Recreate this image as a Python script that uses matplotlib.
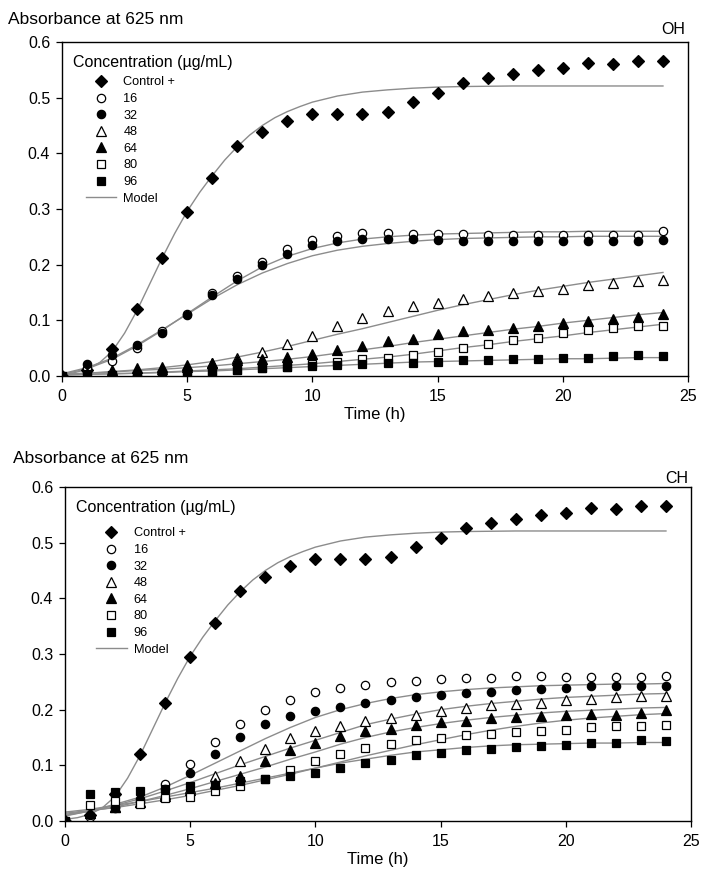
import numpy as np
import matplotlib
matplotlib.use('Agg')
import matplotlib.pyplot as plt

plt.rcParams['font.family'] = ['Liberation Sans', 'DejaVu Sans']

# Tiempo de muestreo (h)
time_h = np.arange(0, 25)

# Control positivo (igual en ambos paneles)
control = [0.000, 0.010, 0.049, 0.120, 0.212, 0.294, 0.356, 0.413, 0.438, 0.458,
           0.470, 0.471, 0.471, 0.474, 0.492, 0.508, 0.527, 0.535, 0.543, 0.550,
           0.553, 0.562, 0.560, 0.565, 0.566]
model_ctrl_t = [0, 0.5, 1, 1.5, 2, 2.5, 3, 3.5, 4, 4.5, 5, 5.5, 6, 6.5, 7, 7.5, 8,
                8.5, 9, 9.5, 10, 11, 12, 13, 14, 15, 16, 18, 20, 22, 24]
model_ctrl = [0.003, 0.006, 0.012, 0.024, 0.044, 0.077, 0.118, 0.165, 0.212, 0.256,
              0.296, 0.330, 0.360, 0.388, 0.412, 0.433, 0.450, 0.464, 0.475, 0.484,
              0.492, 0.503, 0.510, 0.514, 0.517, 0.519, 0.520, 0.521, 0.521, 0.521, 0.521]

# Panel OH
oh_16 = [0.000, 0.015, 0.027, 0.050, 0.080, 0.112, 0.150, 0.179, 0.205, 0.229,
         0.244, 0.251, 0.256, 0.256, 0.255, 0.255, 0.255, 0.254, 0.254, 0.253,
         0.253, 0.254, 0.254, 0.254, 0.261]
oh_32 = [0.000, 0.021, 0.038, 0.056, 0.078, 0.109, 0.145, 0.175, 0.200, 0.219,
         0.236, 0.242, 0.246, 0.246, 0.246, 0.245, 0.243, 0.243, 0.243, 0.243,
         0.243, 0.243, 0.243, 0.243, 0.245]
oh_48 = [0.000, 0.004, 0.006, 0.008, 0.012, 0.016, 0.024, 0.032, 0.043, 0.057,
         0.072, 0.090, 0.104, 0.116, 0.126, 0.132, 0.139, 0.144, 0.149, 0.153,
         0.157, 0.163, 0.167, 0.171, 0.172]
oh_64 = [0.000, 0.006, 0.011, 0.014, 0.017, 0.020, 0.024, 0.028, 0.030, 0.034,
         0.039, 0.047, 0.054, 0.062, 0.066, 0.075, 0.080, 0.083, 0.086, 0.089,
         0.096, 0.099, 0.103, 0.106, 0.111]
oh_80 = [0.000, 0.003, 0.002, 0.001, 0.003, 0.005, 0.008, 0.011, 0.014, 0.017,
         0.022, 0.026, 0.030, 0.032, 0.037, 0.043, 0.050, 0.057, 0.065, 0.068,
         0.077, 0.083, 0.086, 0.089, 0.090]
oh_96 = [0.000, 0.002, 0.002, 0.002, 0.004, 0.006, 0.009, 0.011, 0.014, 0.016,
         0.018, 0.020, 0.021, 0.023, 0.024, 0.026, 0.028, 0.029, 0.031, 0.031,
         0.032, 0.033, 0.036, 0.038, 0.036]

oh_model_16 = [0.003, 0.013, 0.030, 0.054, 0.082, 0.112, 0.142, 0.171, 0.196, 0.215,
               0.229, 0.239, 0.246, 0.250, 0.253, 0.255, 0.256, 0.257, 0.258, 0.259,
               0.259, 0.260, 0.260, 0.260, 0.260]
oh_model_32 = [0.004, 0.015, 0.032, 0.056, 0.083, 0.111, 0.139, 0.164, 0.185, 0.202,
               0.216, 0.226, 0.233, 0.238, 0.242, 0.245, 0.247, 0.248, 0.249, 0.250,
               0.250, 0.251, 0.251, 0.251, 0.251]
oh_model_48 = [0.003, 0.005, 0.008, 0.011, 0.015, 0.020, 0.026, 0.034, 0.043, 0.053,
               0.064, 0.075, 0.085, 0.096, 0.107, 0.118, 0.128, 0.137, 0.146, 0.154,
               0.161, 0.168, 0.174, 0.180, 0.186]
oh_model_64 = [0.003, 0.005, 0.007, 0.010, 0.012, 0.015, 0.018, 0.022, 0.026, 0.030,
               0.035, 0.041, 0.047, 0.053, 0.060, 0.066, 0.072, 0.078, 0.084, 0.089,
               0.095, 0.100, 0.105, 0.110, 0.114]
oh_model_80 = [0.002, 0.003, 0.004, 0.005, 0.007, 0.009, 0.011, 0.013, 0.016, 0.019,
               0.022, 0.026, 0.030, 0.034, 0.039, 0.045, 0.051, 0.056, 0.062, 0.067,
               0.072, 0.078, 0.083, 0.088, 0.093]
oh_model_96 = [0.002, 0.003, 0.004, 0.005, 0.006, 0.008, 0.009, 0.011, 0.013, 0.015,
               0.017, 0.019, 0.021, 0.023, 0.025, 0.026, 0.027, 0.028, 0.029, 0.030,
               0.031, 0.031, 0.032, 0.033, 0.033]

# Panel CH
ch_16 = [0.000, 0.008, 0.025, 0.035, 0.067, 0.102, 0.142, 0.175, 0.199, 0.218,
         0.231, 0.239, 0.245, 0.250, 0.252, 0.255, 0.257, 0.257, 0.260, 0.260,
         0.258, 0.258, 0.258, 0.258, 0.261]
ch_32 = [0.000, 0.011, 0.023, 0.040, 0.057, 0.087, 0.121, 0.151, 0.174, 0.188,
         0.198, 0.205, 0.212, 0.217, 0.223, 0.227, 0.230, 0.232, 0.236, 0.238,
         0.239, 0.242, 0.242, 0.242, 0.242]
ch_48 = [0.000, 0.015, 0.025, 0.035, 0.048, 0.060, 0.080, 0.107, 0.130, 0.150,
         0.162, 0.171, 0.179, 0.185, 0.191, 0.197, 0.203, 0.208, 0.211, 0.212,
         0.218, 0.220, 0.223, 0.224, 0.224]
ch_64 = [0.000, 0.015, 0.025, 0.035, 0.045, 0.055, 0.068, 0.081, 0.107, 0.128,
         0.141, 0.152, 0.161, 0.166, 0.172, 0.177, 0.179, 0.185, 0.187, 0.188,
         0.191, 0.193, 0.191, 0.194, 0.199]
ch_80 = [0.000, 0.028, 0.036, 0.031, 0.041, 0.044, 0.053, 0.062, 0.076, 0.092,
         0.108, 0.120, 0.131, 0.139, 0.145, 0.150, 0.154, 0.157, 0.160, 0.161,
         0.163, 0.168, 0.170, 0.171, 0.173]
ch_96 = [0.000, 0.048, 0.052, 0.053, 0.058, 0.062, 0.065, 0.071, 0.075, 0.081,
         0.087, 0.095, 0.104, 0.109, 0.119, 0.123, 0.127, 0.130, 0.133, 0.135,
         0.137, 0.140, 0.141, 0.145, 0.144]

ch_model_32 = [0.009, 0.018, 0.030, 0.043, 0.061, 0.082, 0.104, 0.126, 0.148, 0.168,
               0.186, 0.200, 0.211, 0.220, 0.227, 0.232, 0.236, 0.239, 0.241, 0.243,
               0.244, 0.245, 0.246, 0.246, 0.247]
ch_model_48 = [0.010, 0.018, 0.028, 0.040, 0.054, 0.069, 0.085, 0.101, 0.116, 0.131,
               0.145, 0.159, 0.173, 0.183, 0.192, 0.200, 0.206, 0.211, 0.215, 0.219,
               0.222, 0.224, 0.226, 0.228, 0.229]
ch_model_64 = [0.012, 0.018, 0.025, 0.035, 0.046, 0.058, 0.071, 0.084, 0.097, 0.111,
               0.124, 0.138, 0.150, 0.160, 0.168, 0.175, 0.181, 0.186, 0.190, 0.194,
               0.197, 0.199, 0.201, 0.203, 0.204]
ch_model_80 = [0.014, 0.019, 0.024, 0.031, 0.038, 0.046, 0.055, 0.064, 0.074, 0.084,
               0.095, 0.106, 0.117, 0.127, 0.137, 0.146, 0.155, 0.163, 0.170, 0.176,
               0.181, 0.185, 0.188, 0.191, 0.193]
ch_model_96 = [0.016, 0.021, 0.028, 0.035, 0.043, 0.051, 0.059, 0.068, 0.077, 0.086,
               0.095, 0.104, 0.111, 0.118, 0.124, 0.128, 0.132, 0.135, 0.137, 0.138,
               0.139, 0.140, 0.140, 0.141, 0.141]

labels = ['Control +', '16', '32', '48', '64', '80', '96']
# (marcador, relleno, tamaño)
marker_styles = [('D', 'black', 5.8), ('o', 'white', 6.0), ('o', 'black', 6.0),
                 ('^', 'white', 6.5), ('^', 'black', 6.5), ('s', 'white', 5.6),
                 ('s', 'black', 5.6)]
model_color = '#8c8c8c'


def draw_panel(ax, series, models, leg_x, leg_y):
    # curvas del modelo
    ax.plot(model_ctrl_t, model_ctrl, color=model_color, lw=1.0, zorder=2)
    line = None
    for m in models:
        line, = ax.plot(time_h, m, color=model_color, lw=1.0, zorder=2)
    # puntos experimentales
    handles = []
    for y, lab, (mk, fc, ms) in zip(series, labels, marker_styles):
        h, = ax.plot(time_h, y, linestyle='none', marker=mk, ms=ms,
                     mfc=fc, mec='black', mew=0.9, zorder=3, label=lab)
        handles.append(h)
    handles.append(line)

    ax.set_xlim(0, 25)
    ax.set_ylim(0, 0.6)
    ax.set_xticks([0, 5, 10, 15, 20, 25])
    ax.set_yticks(np.arange(0, 0.61, 0.1))
    ax.set_yticklabels(['%.1f' % v for v in np.arange(0, 0.61, 0.1)])
    ax.tick_params(direction='out', length=4.5, width=0.9, top=False, right=False)
    ax.tick_params(axis='x', labelsize=11.5, pad=5)
    ax.tick_params(axis='y', labelsize=11.5, pad=4)
    for s in ax.spines.values():
        s.set_linewidth(1.0)
    ax.set_xlabel('Time (h)', fontsize=12, labelpad=2)

    ax.text(0.0176, 0.94, 'Concentration (\u00b5g/mL)', transform=ax.transAxes,
            fontsize=11.5, va='center', ha='left')
    ax.legend(handles, labels + ['Model'], loc='upper left',
              bbox_to_anchor=(leg_x, leg_y), frameon=False, fontsize=9.2,
              borderpad=0, borderaxespad=0, handlelength=2.4,
              handletextpad=0.55, labelspacing=0.36)


fig = plt.figure(figsize=(7.08, 8.81), dpi=100)
ax1 = fig.add_axes([62 / 708, 1 - 376 / 881, 626 / 708, 334 / 881])
ax2 = fig.add_axes([65 / 708, 1 - 821 / 881, 626 / 708, 334 / 881])

draw_panel(ax1, [control, oh_16, oh_32, oh_48, oh_64, oh_80, oh_96],
           [oh_model_16, oh_model_32, oh_model_48, oh_model_64, oh_model_80, oh_model_96],
           0.038, 0.897)
draw_panel(ax2, [control, ch_16, ch_32, ch_48, ch_64, ch_80, ch_96],
           [ch_model_32, ch_model_48, ch_model_64, ch_model_80, ch_model_96],
           0.0495, 0.879)

fig.text(8 / 708, 1 - 20 / 881, 'Absorbance at 625 nm', fontsize=12.5, va='center')
fig.text(685 / 708, 1 - 30 / 881, 'OH', fontsize=11.5, va='center', ha='right')
fig.text(13 / 708, 1 - 458 / 881, 'Absorbance at 625 nm', fontsize=12.5, va='center')
fig.text(688 / 708, 1 - 479 / 881, 'CH', fontsize=11.5, va='center', ha='right')

fig.savefig('out.png', dpi=100)
